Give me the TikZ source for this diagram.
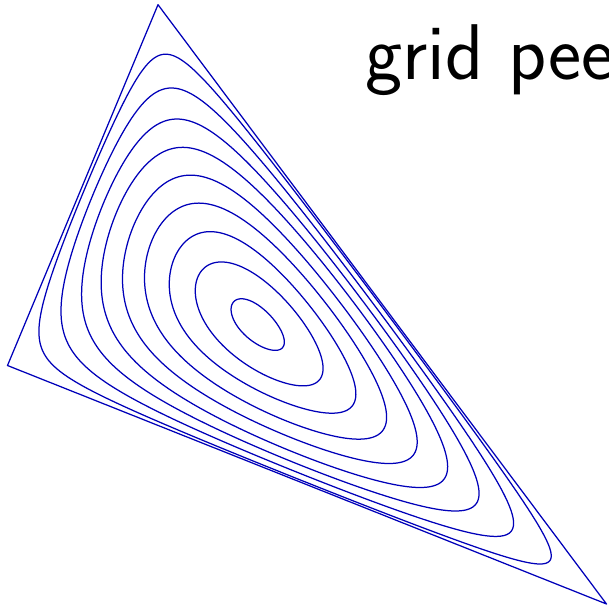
\documentclass[tikz,border=0pt]{standalone}
\usepackage{fontspec}
\usetikzlibrary{calc}
\definecolor{peel}{RGB}{0,0,185}
\tikzset{
  layer/.style={draw=peel,line width=1.25pt,line join=round},
  title/.style={anchor=base west,font=\sffamily\fontsize{79}{79}\selectfont,text=black},
}

\begin{document}
\begin{tikzpicture}[x=1pt,y=-1pt]
  \useasboundingbox (0,0) rectangle (608,610);

  % corners of the triangle, in pixels of the page
  \coordinate (A) at (158,4.7);
  \coordinate (B) at (7.5,365.5);
  \coordinate (C) at (606.5,604);
  \coordinate (G) at (barycentric cs:A=1,B=1,C=1);

  \draw[layer] (A) -- (B) -- (C) -- cycle;

  % nested layers: scale \s and triangularity \m of each curve
  \begin{scope}[shift={(G)}]
    \foreach \s/\m in {0.128/0.1,0.306/0.2,0.44/0.39,0.565/0.47,0.674/0.585,
                       0.7755/0.675,0.857/0.785,0.9266/0.883,0.98/0.956} {
      \draw[layer] plot[domain=0:360,samples=721,variable=\t]
        ({\s/cos(acos(\m*cos(3*\t))/3)*(124.915*cos(\t)-129.47*sin(\t))},
         {\s/cos(acos(\m*cos(3*\t))/3)*(-20.385*cos(\t)-173.0*sin(\t))}) -- cycle;
    }
  \end{scope}

  \node[title] (name) at (362,79) {grid pee};
\end{tikzpicture}
\end{document}
